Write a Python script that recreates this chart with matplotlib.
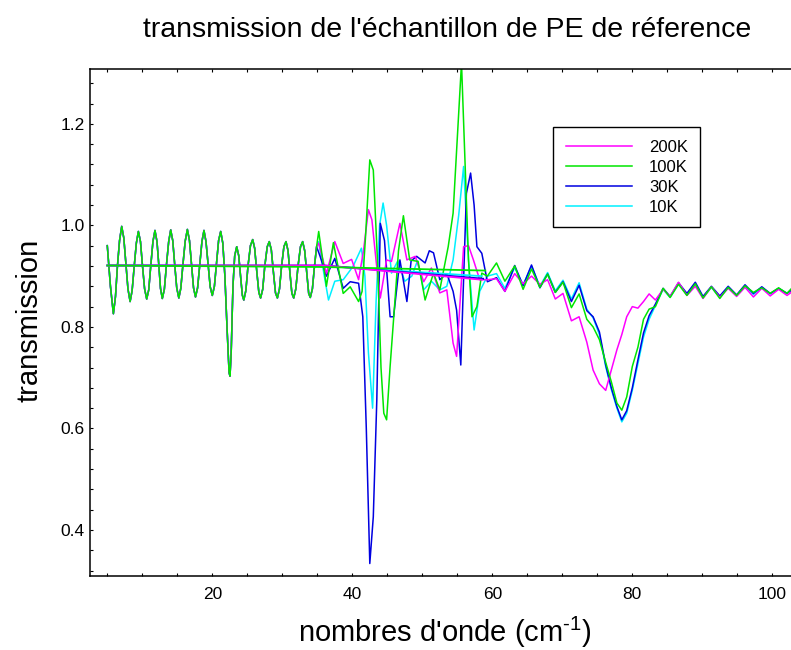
import matplotlib
matplotlib.use("Agg")
import matplotlib.pyplot as plt

plt.rcParams.update({"font.family": "Liberation Sans", "mathtext.fontset": "custom",
                     "mathtext.rm": "Liberation Sans", "mathtext.default": "regular"})

COULEURS = {"200K": "#ff00ff", "100K": "#00e600", "30K": "#0000e0", "10K": "#00f0ff"}

# franges basse fréquence (5-35 cm-1), identiques pour les 4 températures
x_bas = [5.0, 5.45, 5.87, 6.17, 6.45, 6.75, 7.06, 7.36, 7.65, 7.95, 8.26, 8.55, 8.85, 9.15,
         9.44, 9.74, 10.03, 10.33, 10.63, 10.92, 11.22, 11.52, 11.81, 12.1, 12.36, 12.6,
         12.86, 13.15, 13.45, 13.77, 14.06, 14.35, 14.63, 14.92, 15.22, 15.5, 15.8, 16.13,
         16.44, 16.74, 17.03, 17.32, 17.6, 17.9, 18.2, 18.52, 18.81, 19.1, 19.4, 19.7, 20.0,
         20.3, 20.6, 20.9, 21.2, 21.5, 21.8, 22.1, 22.4, 22.53, 22.7, 22.95, 23.2, 23.49,
         23.78, 24.07, 24.3, 24.5, 24.8, 25.1, 25.45, 25.77, 26.05, 26.35, 26.65, 26.9, 27.2,
         27.5, 27.85, 28.14, 28.43, 28.73, 29.03, 29.3, 29.6, 29.9, 30.23, 30.53, 30.82, 31.1,
         31.37, 31.63, 31.93, 32.25, 32.6, 32.91, 33.2, 33.5, 33.77, 34.0, 34.3, 34.6, 34.9]
y_bas = [0.960, 0.880, 0.826, 0.860, 0.920, 0.970, 0.998, 0.975, 0.925, 0.875, 0.850, 0.872,
         0.920, 0.965, 0.988, 0.968, 0.920, 0.875, 0.855, 0.873, 0.922, 0.968, 0.990, 0.968,
         0.922, 0.876, 0.856, 0.874, 0.922, 0.968, 0.991, 0.970, 0.923, 0.877, 0.857, 0.876,
         0.922, 0.969, 0.992, 0.970, 0.923, 0.877, 0.859, 0.877, 0.922, 0.968, 0.990, 0.968,
         0.923, 0.879, 0.862, 0.880, 0.925, 0.970, 0.988, 0.965, 0.900, 0.800, 0.710, 0.703,
         0.750, 0.880, 0.940, 0.958, 0.940, 0.895, 0.862, 0.853, 0.872, 0.920, 0.960, 0.972,
         0.955, 0.910, 0.868, 0.857, 0.874, 0.920, 0.958, 0.968, 0.952, 0.908, 0.867, 0.857,
         0.875, 0.920, 0.958, 0.968, 0.950, 0.905, 0.866, 0.857, 0.875, 0.920, 0.958, 0.968,
         0.950, 0.905, 0.866, 0.858, 0.875, 0.920, 0.958]

# zone de recouvrement des deux fenêtres (35-59 cm-1)
x_mil_200K = [35.2, 36.3, 37.5, 38.7, 39.9, 40.9, 41.6, 42.3, 42.8, 43.4, 44.0, 44.9, 45.6,
              46.8, 47.8, 49.0, 50.2, 51.3, 52.5, 53.5, 54.4, 54.9, 55.4, 55.9, 56.6, 57.3, 58.2]
y_mil_200K = [0.965, 0.905, 0.968, 0.925, 0.933, 0.893, 0.950, 1.031, 1.011, 0.930, 0.857,
              0.932, 0.929, 1.004, 0.932, 0.939, 0.889, 0.916, 0.867, 0.873, 0.768, 0.742,
              0.850, 0.958, 0.960, 0.932, 0.893]

x_mil_100K = [35.2, 35.8, 36.3, 37.3, 38.7, 39.7, 40.9, 41.4, 41.9, 42.5, 43.0, 43.6, 44.1,
              44.5, 44.9, 45.4, 46.1, 46.6, 47.3, 48.2, 49.4, 50.4, 51.6, 52.5, 53.7, 54.4,
              55.1, 55.6, 56.1, 56.6, 57.1, 57.8, 58.5]
y_mil_100K = [0.988, 0.930, 0.880, 0.966, 0.866, 0.879, 0.850, 0.870, 0.980, 1.129, 1.109,
              0.930, 0.720, 0.630, 0.617, 0.722, 0.853, 0.950, 1.019, 0.932, 0.929, 0.853,
              0.906, 0.873, 0.958, 1.024, 1.195, 1.320, 1.129, 0.932, 0.820, 0.840, 0.906]

x_mil_30K = [35.4, 36.3, 37.5, 38.7, 39.7, 40.9, 41.5, 42.0, 42.5, 43.0, 43.5, 44.0, 44.6,
             45.4, 45.9, 46.8, 47.8, 48.4, 49.2, 50.4, 51.0, 51.6, 52.5, 53.5, 54.4, 54.9,
             55.5, 56.3, 56.9, 57.4, 57.8, 58.5]
y_mil_30K = [0.939, 0.900, 0.935, 0.876, 0.889, 0.886, 0.820, 0.600, 0.334, 0.426, 0.656,
             1.004, 0.970, 0.820, 0.820, 0.932, 0.850, 0.930, 0.939, 0.926, 0.950, 0.946,
             0.893, 0.905, 0.870, 0.833, 0.725, 1.063, 1.103, 1.040, 0.958, 0.945]

x_mil_10K = [35.2, 36.0, 36.6, 37.5, 38.7, 40.1, 41.3, 41.8, 42.3, 42.9, 43.4, 43.9, 44.4,
             44.9, 45.6, 46.5, 47.5, 48.5, 49.3, 50.2, 51.3, 52.5, 53.5, 54.4, 55.2, 55.9,
             56.6, 57.4, 58.2]
y_mil_10K = [0.968, 0.900, 0.853, 0.890, 0.893, 0.919, 0.955, 0.900, 0.750, 0.640, 0.850,
             1.000, 1.044, 1.000, 0.906, 0.930, 0.890, 0.900, 0.930, 0.873, 0.890, 0.873,
             0.880, 0.932, 1.020, 1.116, 0.932, 0.794, 0.870]

# fenêtre haute fréquence (59-103 cm-1), même grille pour toutes les températures
x_haut = [59.3, 60.6, 61.8, 63.2, 64.4, 65.6, 66.8, 67.9, 69.0, 70.1, 71.3, 72.4, 73.5, 74.4,
          75.3, 76.2, 77.0, 77.8, 78.5, 79.2, 80.0, 80.8, 81.6, 82.4, 83.3, 84.4, 85.4, 86.6,
          87.8, 89.0, 90.1, 91.3, 92.5, 93.7, 94.9, 96.1, 97.3, 98.5, 99.7, 100.9, 102.1, 102.7]
y_haut_200K = [0.893, 0.895, 0.870, 0.905, 0.885, 0.900, 0.884, 0.893, 0.855, 0.866, 0.812,
               0.820, 0.770, 0.715, 0.688, 0.675, 0.715, 0.755, 0.785, 0.820, 0.840, 0.837,
               0.850, 0.865, 0.853, 0.874, 0.860, 0.888, 0.862, 0.880, 0.856, 0.879, 0.858,
               0.876, 0.860, 0.878, 0.859, 0.876, 0.861, 0.874, 0.862, 0.868]
y_haut_100K = [0.900, 0.926, 0.890, 0.920, 0.874, 0.914, 0.878, 0.904, 0.868, 0.888, 0.838,
               0.865, 0.815, 0.800, 0.775, 0.730, 0.692, 0.650, 0.636, 0.662, 0.722, 0.760,
               0.815, 0.835, 0.840, 0.876, 0.858, 0.884, 0.862, 0.885, 0.857, 0.879, 0.856,
               0.878, 0.862, 0.881, 0.868, 0.877, 0.866, 0.877, 0.866, 0.875]
y_haut_30K = [0.889, 0.897, 0.870, 0.921, 0.881, 0.922, 0.877, 0.904, 0.868, 0.889, 0.850,
              0.882, 0.832, 0.820, 0.790, 0.725, 0.680, 0.643, 0.617, 0.635, 0.680, 0.735,
              0.788, 0.822, 0.845, 0.876, 0.860, 0.887, 0.866, 0.888, 0.860, 0.880, 0.861,
              0.880, 0.863, 0.883, 0.866, 0.879, 0.866, 0.876, 0.866, 0.872]
y_haut_10K = [0.900, 0.905, 0.876, 0.917, 0.883, 0.920, 0.880, 0.907, 0.871, 0.892, 0.855,
              0.887, 0.835, 0.818, 0.785, 0.722, 0.677, 0.640, 0.613, 0.630, 0.675, 0.728,
              0.780, 0.815, 0.842, 0.874, 0.858, 0.885, 0.864, 0.884, 0.858, 0.878, 0.858,
              0.878, 0.862, 0.880, 0.864, 0.878, 0.865, 0.876, 0.866, 0.874]

# segments de raccord entre les deux fenêtres
x_rac = {"200K": [5.0, 36.0, 58.5], "100K": [5.0, 36.0, 59.0],
         "30K": [5.0, 36.0, 58.7], "10K": [5.0, 36.0, 58.5]}
y_rac = {"200K": [0.921, 0.921, 0.893], "100K": [0.921, 0.918, 0.911],
         "30K": [0.921, 0.921, 0.895], "10K": [0.921, 0.920, 0.900]}

series = {
    "200K": (x_mil_200K, y_mil_200K, y_haut_200K),
    "100K": (x_mil_100K, y_mil_100K, y_haut_100K),
    "30K": (x_mil_30K, y_mil_30K, y_haut_30K),
    "10K": (x_mil_10K, y_mil_10K, y_haut_10K),
}

fig = plt.figure(figsize=(7.91, 6.5), dpi=100)
ax = fig.add_axes([90 / 791, (650 - 575.7) / 650, (791 - 90) / 791, (575.7 - 69) / 650])

lignes = {}
for nom in ["10K", "30K", "200K", "100K"]:
    xm, ym, yh = series[nom]
    x = x_bas + xm + x_haut
    y = y_bas + ym + yh
    lignes[nom], = ax.plot(x, y, color=COULEURS[nom], lw=1.1, label=nom)
for nom in ["10K", "30K", "200K", "100K"]:
    ax.plot(x_rac[nom], y_rac[nom], color=COULEURS[nom], lw=1.3)

ax.set_xlim(2.53, 102.67)
ax.set_ylim(0.31, 1.308)
ax.set_xticks([20, 40, 60, 80, 100])
ax.set_xticks(range(5, 105, 5), minor=True)
ax.set_yticks([0.4, 0.6, 0.8, 1.0, 1.2])
ax.set_yticks([0.32 + 0.04 * i for i in range(25)], minor=True)
ax.set_yticklabels(["0.4", "0.6", "0.8", "1.0", "1.2"])
ax.tick_params(which="both", direction="in", top=True, right=False, length=2.5,
               width=0.8, labelsize=12.5)
ax.tick_params(axis="x", pad=8)
ax.tick_params(axis="y", pad=4)
ax.spines["right"].set_visible(False)
for s in ["left", "bottom", "top"]:
    ax.spines[s].set_linewidth(1.1)

leg = ax.legend([lignes[n] for n in ["200K", "100K", "30K", "10K"]],
                ["200K", "100K", "30K", "10K"],
                loc="upper left", bbox_to_anchor=(553 / 791, 1 - 127 / 650),
                bbox_transform=fig.transFigure, borderaxespad=0, fontsize=12,
                handlelength=4.0, handletextpad=1.0, labelspacing=0.3, borderpad=0.75,
                fancybox=False, framealpha=1, edgecolor="black")
leg.get_frame().set_linewidth(1.0)

fig.text(447 / 791, 1 - 30 / 650, "transmission de l'échantillon de PE de réference",
         ha="center", va="center", fontsize=20.5)
fig.text(30 / 791, 1 - 320 / 650, "transmission", rotation=90,
         ha="center", va="center", fontsize=21)
fig.text(445 / 791, 1 - 632 / 650, "nombres d'onde (cm$^{\u2010 1}$)",
         ha="center", va="center", fontsize=21)

fig.savefig("out.png", dpi=100)
